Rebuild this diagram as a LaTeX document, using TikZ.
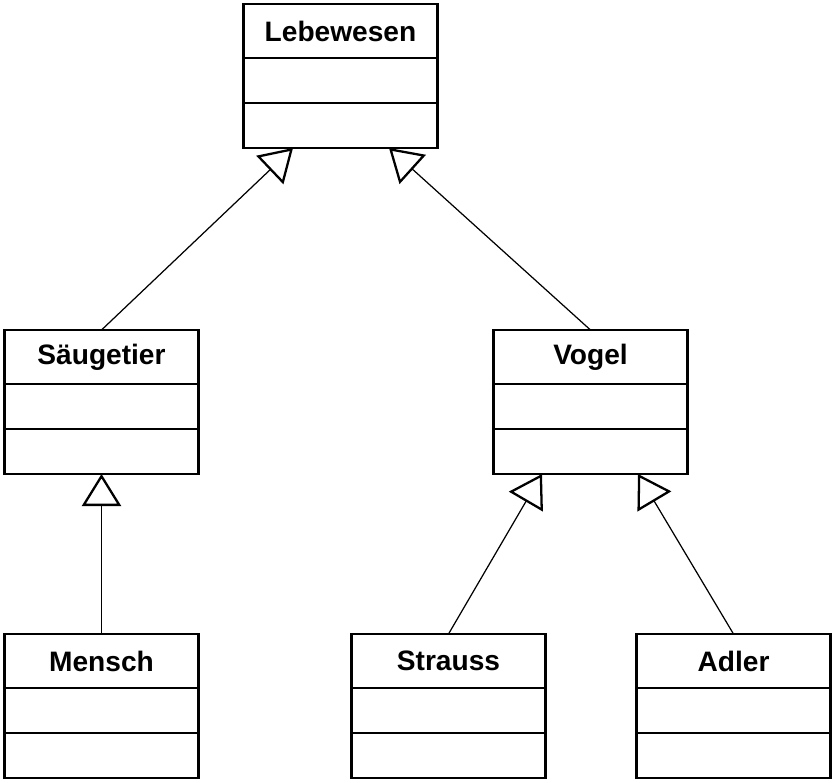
\documentclass[tikz,border=0pt]{standalone}
\usepackage{fontspec}
\setmainfont{Liberation Sans}
\usepackage{tikz}
\usetikzlibrary{positioning, arrows.meta}
\tikzset{
    cls/.style={draw, line width=1.4pt, minimum width=3.88cm, minimum height=1.08cm, inner sep=0pt, outer sep=0pt, font=\fontsize{16}{19}\selectfont\bfseries},
    clspart/.style={draw, line width=1.4pt, minimum width=3.88cm, minimum height=0.9cm, inner sep=0pt, outer sep=0pt},
    inherit/.style={-{Triangle[open, length=6.4mm, width=7.8mm, line width=1.3pt]}, line width=0.7pt}
}

\begin{document}
\begin{tikzpicture}
                \useasboundingbox (0,0) rectangle (16.68,-15.64);

                \node [cls, anchor=north] (L) at (6.81,-0.08) {Lebewesen};
                \node [clspart, below=0pt of L] (L1) {};
                \node [clspart, below=0pt of L1] (L2) {};

                \node [cls, anchor=north] (S) at (2.03,-6.60) {Säugetier};
                \node [clspart, below=0pt of S] (S1) {};
                \node [clspart, below=0pt of S1] (S2) {};

                \node [cls, anchor=north] (V) at (11.81,-6.60) {Vogel};
                \node [clspart, below=0pt of V] (V1) {};
                \node [clspart, below=0pt of V1] (V2) {};

                \node [cls, anchor=north] (M) at (2.03,-12.68) {Mensch};
                \node [clspart, below=0pt of M] (M1) {};
                \node [clspart, below=0pt of M1] (M2) {};

                \node [cls, anchor=north] (St) at (8.97,-12.68) {Strauss};
                \node [clspart, below=0pt of St] (St1) {};
                \node [clspart, below=0pt of St1] (St2) {};

                \node [cls, anchor=north] (A) at (14.67,-12.68) {Adler};
                \node [clspart, below=0pt of A] (A1) {};
                \node [clspart, below=0pt of A1] (A2) {};


                \draw[inherit] (S.north) -- ([xshift=-0.95cm]L2.south);
                \draw[inherit] (V.north) -- ([xshift=0.97cm]L2.south);
                \draw[inherit] (M.north) -- (S2.south);
                \draw[inherit] (St.north) -- ([xshift=-0.97cm]V2.south);
                \draw[inherit] (A.north) -- ([xshift=0.95cm]V2.south);
            \end{tikzpicture}
\end{document}
